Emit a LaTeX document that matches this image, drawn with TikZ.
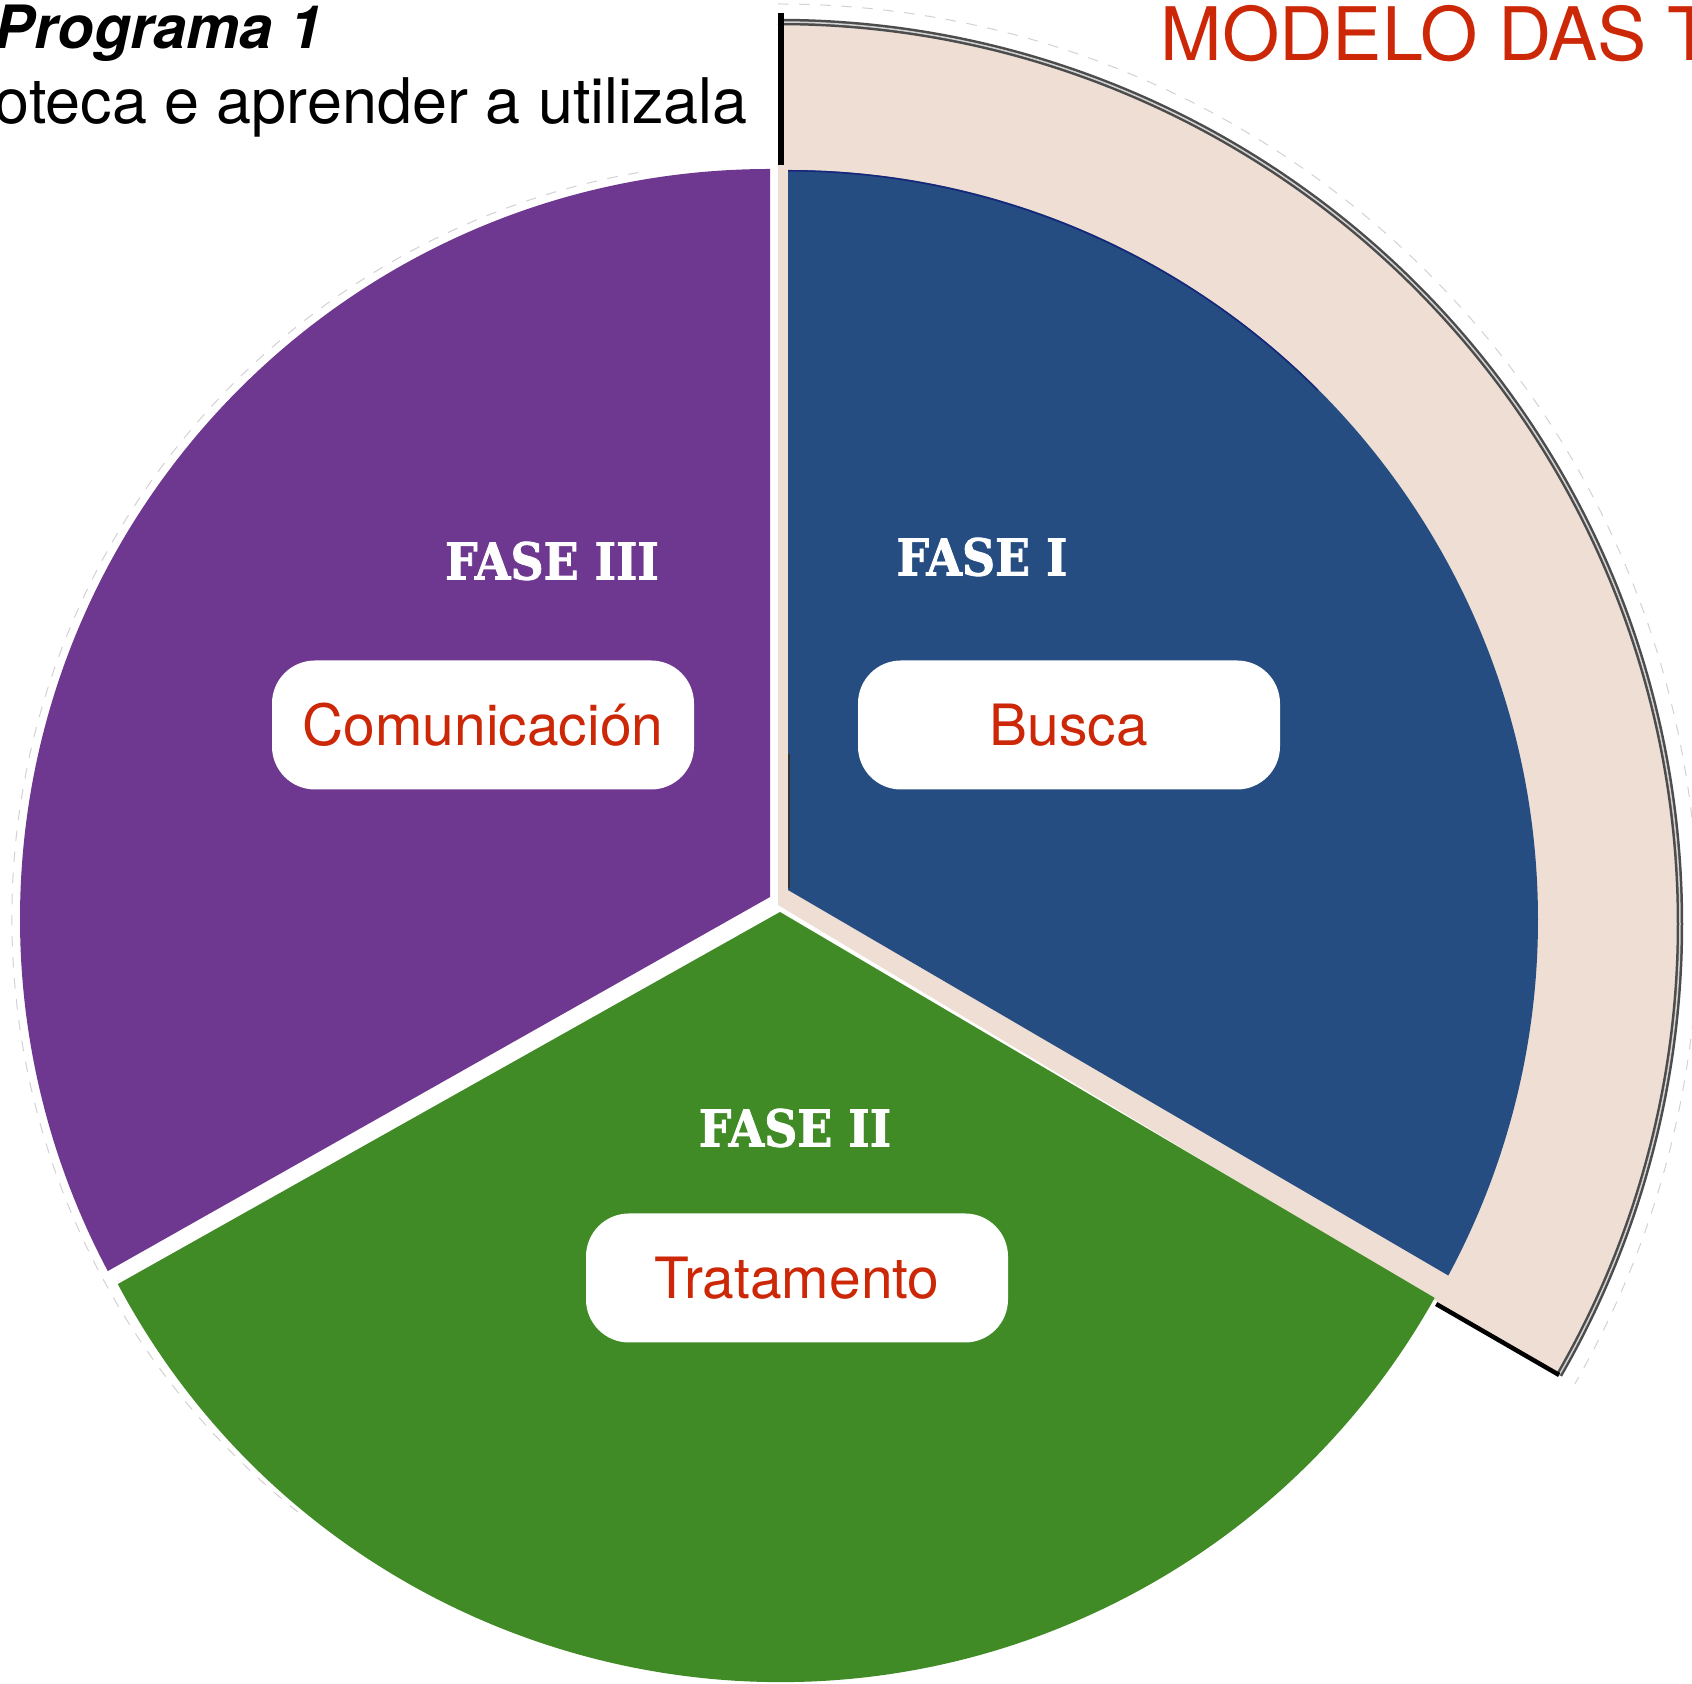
\documentclass[tikz,border=0pt]{standalone}
\usepackage{fontspec}
\setmainfont{TeX Gyre Heros}
\newfontfamily\fasefont{DejaVu Serif}[FakeStretch=0.9, BoldFeatures={FakeBold=1.5}]
\usetikzlibrary{positioning}
\definecolor{V}{RGB}{111,56,144}
\definecolor{N}{RGB}{38,77,129}
\definecolor{D}{RGB}{22,38,122}
\definecolor{G}{RGB}{64,139,38}
\definecolor{K}{RGB}{238,222,212}
\definecolor{R}{RGB}{204,40,8}
\tikzstyle{fasebox} = [rounded corners=4.3mm,
fill=white, text=R,
minimum width=42.2mm,
minimum height=12.9mm, inner sep=0pt,
font=\fontsize{16.2}{19}\selectfont]
\tikzstyle{faselabel} = [text=white, inner sep=0pt,
font=\fasefont\bfseries\fontsize{14.5}{17}\selectfont]
\tikzstyle{topline} = [anchor=base west, inner sep=0pt]

\begin{document}
\begin{tikzpicture}[x=0.1mm,y=0.1mm]
\useasboundingbox (0,0) rectangle (1692,1684);
\coordinate (kc) at (778,760);
\coordinate (ka) at (778,779);
\coordinate (bc) at (788,764);
\coordinate (ba) at (788,794);
\coordinate (gc) at (780,752);
\coordinate (ga) at (780,772);
\coordinate (pc) at (770,765);
\coordinate (pa) at (770,787);
% outer band behind phase I
\fill[K] (ka) -- ([shift={(90:90.2mm)}]kc) arc[start angle=90, end angle=-30, radius=90.2mm] -- cycle;
\draw[gray!35, dashed, line width=0.1mm] ([shift={(90:92mm)}]kc) arc[start angle=90, end angle=-30, radius=92mm];
\draw[gray!60!black, double=gray!35, double distance=0.15mm, line width=0.25mm]
  ([shift={(90:90.2mm)}]kc) arc[start angle=90, end angle=-30, radius=90.2mm];
\draw[gray!35, dashed, line width=0.1mm] ([shift={(100:75.8mm)}]pc) arc[start angle=100, end angle=232, radius=75.8mm];
% the three phases
\fill[N] (ba) -- ([shift={(90:75mm)}]bc) arc[start angle=90, end angle=-28.3, radius=75mm] -- cycle;
\draw[D, line width=0.15mm] ([shift={(90:74.92mm)}]bc) arc[start angle=90, end angle=45, radius=74.92mm];
\fill[G] (ga) -- ([shift={(208:75mm)}]gc) arc[start angle=208, end angle=330.8, radius=75mm] -- cycle;
\fill[V] (pa) -- ([shift={(90:75mm)}]pc) arc[start angle=90, end angle=208, radius=75mm] -- cycle;
\draw[black, line width=0.6mm] (781,1671) -- (781,1519);
\draw[black, line width=0.45mm] ([shift={(-30:76mm)}]kc) -- ([shift={(-30:90.2mm)}]kc);
\draw[black!80, line width=0.25mm] (789,930) -- (789,796);
\node[faselabel] (F-1) at (982,1127) {FASE I};
\node[faselabel] (F-2) at (795,556) {FASE II};
\node[faselabel] (F-3) at (552,1123) {FASE III};
\foreach \T/\px/\py [count=\Y] in {Busca/1069/959,Tratamento/797/406,Comunicación/483/959}
  \node[fasebox] (B-\Y) at (\px,\py) {\T};
\node[topline, font=\bfseries\itshape\fontsize{17}{20}\selectfont] (prog) at (-6,1635) {Programa 1};
\node[topline, font=\fontsize{17.9}{21}\selectfont] (sub) at (-6,1560) {oteca e aprender a utilizala};
\node[topline, text=R, font=\fontsize{21}{25}\selectfont] (title) at (1160,1623) {MODELO DAS T};
\end{tikzpicture}
\end{document}
